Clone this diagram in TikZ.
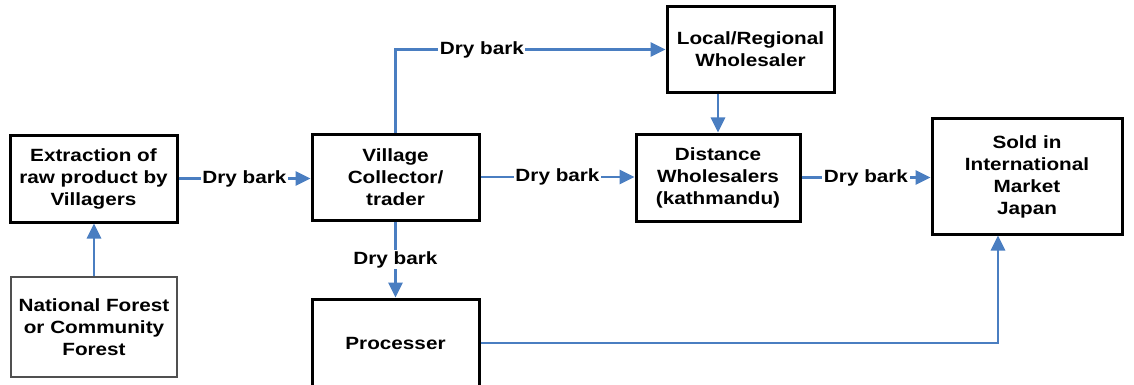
\documentclass[tikz,border=0pt]{standalone}
\usepackage{fontspec}
\setmainfont{Liberation Sans}[FakeStretch=1.17]
\usetikzlibrary{arrows.meta,calc}
\definecolor{linkblue}{RGB}{74,126,193}
\definecolor{edgegray}{RGB}{80,80,80}
\tikzset{
  stagebox/.style={draw=black, line width=3pt, fill=white, align=center,
    minimum width=167pt, minimum height=86pt, inner sep=2pt,
    font=\fontsize{17.7pt}{22pt}\selectfont\bfseries},
  sourcebox/.style={stagebox, draw=edgegray, line width=1.5pt},
  link/.style={draw=linkblue, line width=2.8pt,
    -{Triangle[length=15pt,width=14pt]}},
  lbl/.style={fill=white, inner sep=1.5pt, text=black,
    font=\fontsize{17.7pt}{22pt}\selectfont\bfseries}
}
\begin{document}
\begin{tikzpicture}[x=1pt,y=-1pt]
\useasboundingbox (0,0) rectangle (1134,385);

% stages of the trade chain
\node[stagebox, minimum height=87pt] (ext) at (93.5,178.5) {Extraction of\\raw product by\\Villagers};
\node[sourcebox, minimum width=166pt, minimum height=100pt] (nat) at (94,327) {National Forest\\or Community\\Forest};
\node[stagebox] (vil) at (395.5,177) {Village\\Collector/\\trader};
\node[stagebox, minimum height=88pt] (proc) at (395.5,343) {Processer};
\node[stagebox] (loc) at (750.5,49.5) {Local/Regional\\Wholesaler};
\node[stagebox, minimum width=164pt, minimum height=87pt] (dist) at (718,177.5) {Distance\\Wholesalers\\(kathmandu)};
\node[stagebox, minimum width=190pt, minimum height=115pt] (sold) at (1027,176.5) {Sold in\\International\\Market\\Japan};

% flows of bark between stages
\draw[link] (nat.north) -- (nat.north |- ext.south);
\draw[link] (ext.east) -- node[lbl]{Dry bark} (ext.east -| vil.west);
\draw[link] (vil.east) -- node[lbl]{Dry bark} (vil.east -| dist.west);
\draw[link] (dist.east) -- node[lbl]{Dry bark} (dist.east -| sold.west);
\draw[link] (vil.north) |- node[lbl,pos=0.66]{Dry bark} (loc.west);
\draw[link] (loc.south -| dist.north) -- (dist.north);
\draw[link] (vil.south) -- node[lbl]{Dry bark} (proc.north);
\draw[link] (proc.east) -| ([xshift=-29pt]sold.south);
\end{tikzpicture}
\end{document}
